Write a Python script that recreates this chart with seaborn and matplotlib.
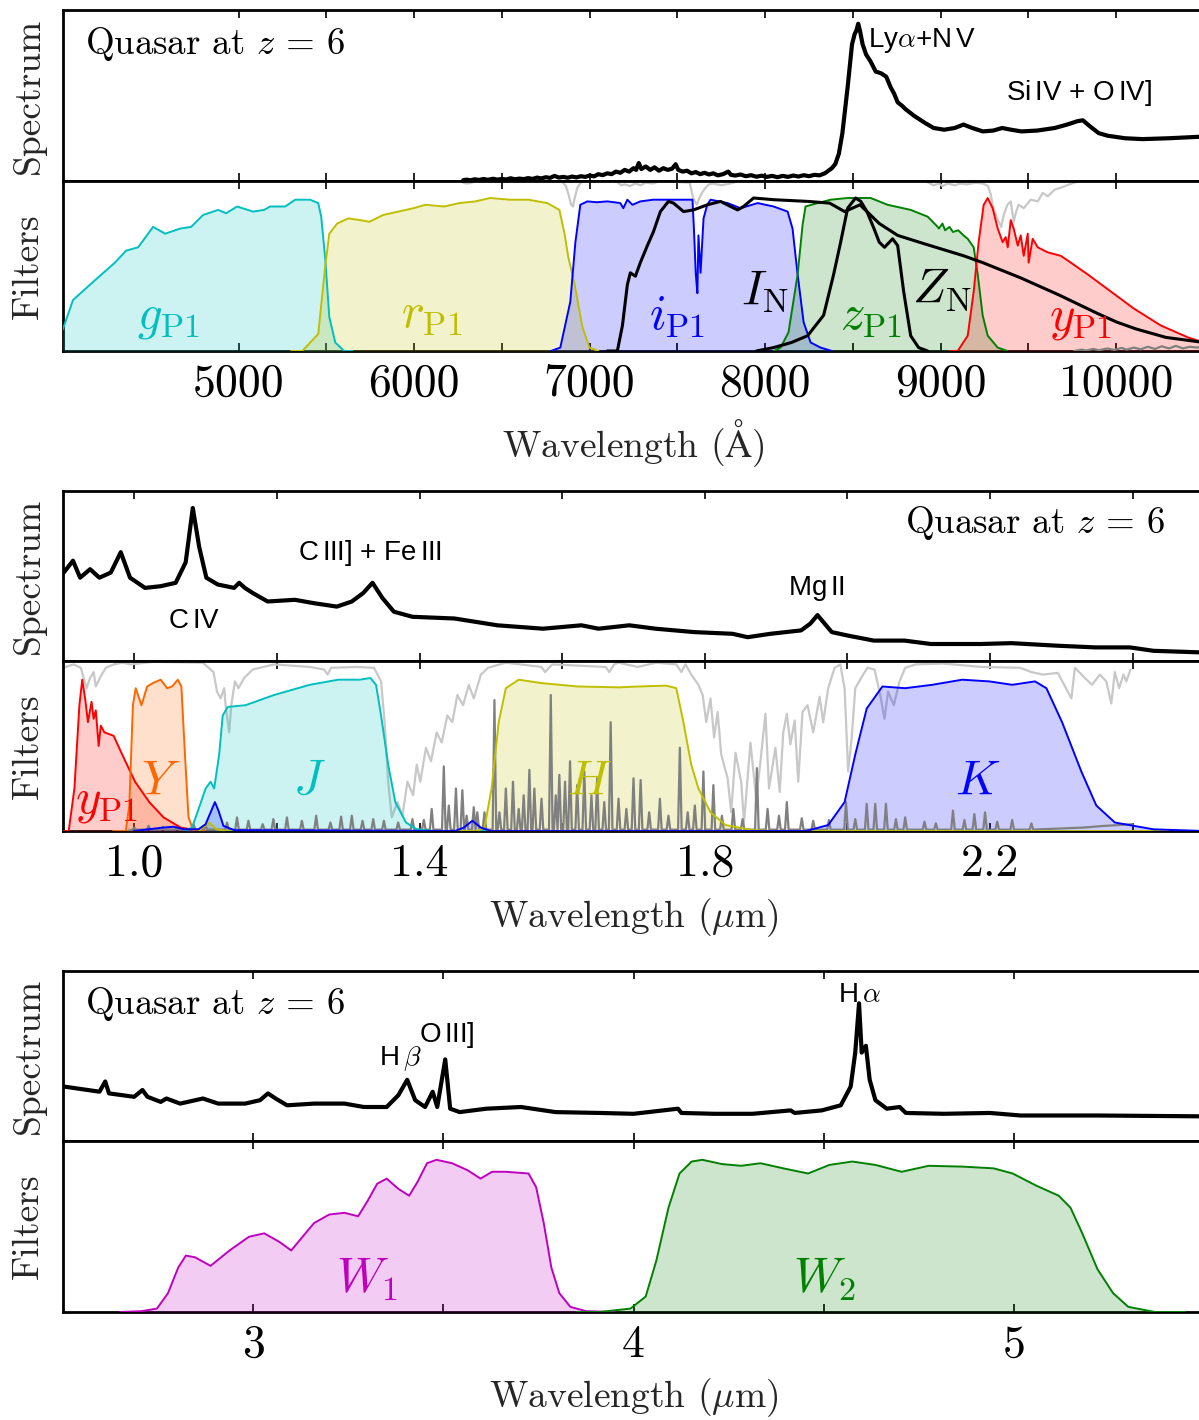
import matplotlib
matplotlib.use("Agg")
import matplotlib.pyplot as plt
import seaborn as sns

# ---------------------------------------------------------------- data
# Optical panel (wavelength in Angstrom)
spec1_wave = [6280, 6300, 6320, 6345, 6370, 6395, 6420, 6450, 6475, 6500, 6525, 6550,
              6575, 6600, 6625, 6650, 6675, 6700, 6725, 6750, 6775, 6800, 6825, 6850,
              6875, 6900, 6925, 6950, 6975, 7000, 7025, 7050, 7075, 7100, 7125, 7150,
              7175, 7200, 7225, 7250, 7265, 7280, 7295, 7320, 7345, 7370, 7395, 7420,
              7445, 7470, 7490, 7505, 7530, 7555, 7580, 7605, 7630, 7655, 7680, 7705,
              7730, 7760, 7790, 7805, 7830, 7860, 7890, 7920, 7950, 7980, 8010, 8040,
              8070, 8100, 8130, 8160, 8190, 8220, 8250, 8280, 8310, 8340, 8360, 8380,
              8400, 8420, 8440, 8470, 8495, 8510, 8520, 8530, 8540, 8555, 8575, 8600,
              8630, 8660, 8690, 8714, 8735, 8755, 8780, 8800, 8825, 8850, 8880, 8910,
              8960, 9020, 9080, 9130, 9180, 9240, 9300, 9350, 9400, 9460, 9550, 9650,
              9720, 9780, 9810, 9850, 9900, 9950, 10050, 10150, 10300, 10500]
spec1_flux = [0.005, 0.008, 0.004, 0.010, 0.006, 0.012, 0.007, 0.013, 0.008, 0.012, 0.009, 0.016,
              0.010, 0.014, 0.011, 0.017, 0.012, 0.020, 0.015, 0.022, 0.018, 0.030, 0.020, 0.024,
              0.019, 0.026, 0.021, 0.028, 0.024, 0.032, 0.027, 0.040, 0.034, 0.045, 0.040, 0.055,
              0.048, 0.065, 0.055, 0.075, 0.065, 0.105, 0.070, 0.085, 0.065, 0.080, 0.060, 0.075,
              0.065, 0.072, 0.098, 0.065, 0.055, 0.060, 0.045, 0.052, 0.040, 0.048, 0.038, 0.045,
              0.033, 0.040, 0.055, 0.036, 0.032, 0.038, 0.028, 0.034, 0.025, 0.031, 0.024, 0.030,
              0.022, 0.030, 0.024, 0.032, 0.026, 0.034, 0.028, 0.036, 0.033, 0.045, 0.060, 0.075,
              0.100, 0.160, 0.280, 0.550, 0.800, 0.860, 0.880, 0.920, 0.880, 0.800, 0.740, 0.700,
              0.640, 0.630, 0.610, 0.550, 0.510, 0.460, 0.440, 0.420, 0.400, 0.380, 0.360, 0.340,
              0.310, 0.300, 0.310, 0.330, 0.310, 0.290, 0.295, 0.310, 0.300, 0.290, 0.295, 0.310,
              0.330, 0.350, 0.355, 0.320, 0.280, 0.265, 0.250, 0.245, 0.250, 0.260]

g_wave = [3900, 4000, 4057, 4143, 4208, 4296, 4359, 4428, 4513, 4582, 4667, 4730, 4798,
          4884, 4929, 4992, 5083, 5146, 5180, 5266, 5323, 5408, 5454, 5471, 5494, 5517,
          5551, 5602, 5650]
g_tr = [0.0, 0.13, 0.30, 0.38, 0.44, 0.52, 0.59, 0.61, 0.73, 0.69, 0.72, 0.73, 0.80,
        0.83, 0.81, 0.85, 0.82, 0.83, 0.85, 0.85, 0.89, 0.89, 0.87, 0.79, 0.54, 0.20,
        0.05, 0.0, 0.0]

r_wave = [5300, 5363, 5454, 5494, 5517, 5562, 5625, 5693, 5745, 5824, 5910, 5996, 6064,
          6172, 6258, 6349, 6434, 6543, 6651, 6759, 6828, 6857, 6879, 6913, 6959, 6999,
          7050]
r_tr = [0.0, 0.0, 0.10, 0.50, 0.69, 0.75, 0.78, 0.77, 0.76, 0.80, 0.82, 0.84, 0.86,
        0.85, 0.87, 0.88, 0.90, 0.89, 0.89, 0.87, 0.83, 0.69, 0.55, 0.40, 0.14, 0.02,
        0.0]

i_wave = [6780, 6833, 6890, 6919, 6947, 6987, 7040, 7101, 7140, 7175, 7192, 7215, 7244,
          7289, 7363, 7478, 7586, 7595, 7605, 7614, 7620, 7632, 7649, 7670, 7689, 7786,
          7860, 7957, 8048, 8128, 8156, 8185, 8219, 8259, 8316, 8380]
i_tr = [0.0, 0.02, 0.29, 0.64, 0.86, 0.88, 0.875, 0.88, 0.875, 0.87, 0.84, 0.89, 0.86,
        0.88, 0.89, 0.89, 0.89, 0.70, 0.45, 0.34, 0.68, 0.46, 0.78, 0.86, 0.89, 0.87,
        0.84, 0.87, 0.85, 0.82, 0.72, 0.45, 0.17, 0.05, 0.02, 0.0]

z_wave = [8050, 8088, 8133, 8185, 8213, 8230, 8299, 8373, 8470, 8601, 8698, 8829, 8926,
          8983, 8990, 9010, 9025, 9050, 9070, 9100, 9130, 9154, 9188, 9211, 9239, 9268,
          9325, 9380]
z_tr = [0.0, 0.02, 0.11, 0.45, 0.74, 0.85, 0.87, 0.89, 0.90, 0.90, 0.86, 0.83, 0.79,
        0.73, 0.72, 0.75, 0.71, 0.73, 0.70, 0.71, 0.68, 0.66, 0.61, 0.45, 0.21, 0.09,
        0.02, 0.0]

yp1_wave = [9050, 9097, 9154, 9188, 9216, 9245, 9268, 9296, 9325, 9353, 9370, 9382, 9399,
            9416, 9439, 9456, 9473, 9496, 9501, 9524, 9553, 9610, 9684, 9741, 9838, 9969,
            10100, 10254, 10408, 10500, 10600]
yp1_tr = [0.0, 0.0, 0.09, 0.35, 0.64, 0.86, 0.90, 0.84, 0.72, 0.64, 0.67, 0.61, 0.77,
          0.72, 0.62, 0.68, 0.56, 0.69, 0.52, 0.66, 0.61, 0.58, 0.56, 0.52, 0.45, 0.35,
          0.25, 0.15, 0.08, 0.05, 0.03]

IN_wave = [7100, 7158, 7187, 7215, 7232, 7261, 7289, 7329, 7363, 7403, 7449, 7478, 7535,
           7592, 7671, 7746, 7803, 7843, 7877, 7934, 8048, 8242, 8367, 8453, 8540, 8600,
           8650, 8755, 8909, 9131, 9239, 9456, 9673, 9895, 10003, 10112, 10283, 10500]
IN_tr = [0.0, 0.0, 0.15, 0.39, 0.46, 0.44, 0.52, 0.62, 0.70, 0.82, 0.88, 0.87, 0.82,
         0.83, 0.86, 0.88, 0.85, 0.83, 0.85, 0.90, 0.89, 0.88, 0.87, 0.82, 0.86, 0.80,
         0.75, 0.68, 0.63, 0.56, 0.52, 0.43, 0.33, 0.22, 0.17, 0.13, 0.08, 0.05]

ZN_wave = [7950, 8048, 8150, 8242, 8333, 8390, 8430, 8470, 8515, 8545, 8580, 8620, 8650,
           8680, 8726, 8755, 8789, 8829, 8874, 8926]
ZN_tr = [0.0, 0.02, 0.05, 0.09, 0.21, 0.45, 0.64, 0.84, 0.90, 0.88, 0.82, 0.72, 0.64,
         0.61, 0.66, 0.62, 0.35, 0.09, 0.02, 0.0]

atm1_wave = [6250, 6280, 6300, 6330, 6360, 6840, 6865, 6880, 6895, 6905, 6915, 6930,
             6950, 6980, 7150, 7180, 7200, 7230, 7260, 7290, 7320, 7360, 7400, 7570,
             7590, 7600, 7610, 7625, 7640, 7660, 7680, 7700, 7750, 7800, 7850, 7900,
             8900, 8930, 8960, 8990, 9010, 9040, 9080, 9110, 9150, 9200, 9240, 9270,
             9285, 9300, 9330, 9345, 9359, 9380, 9399, 9416, 9430, 9444, 9473, 9513,
             9553, 9581, 9610, 9650, 9684, 9720, 9758, 9800, 9840]
atm1_tr = [1.01, 0.99, 0.985, 0.99, 1.01, 1.0, 0.97, 0.92, 0.86, 0.85, 0.90, 0.96,
           0.99, 1.01, 1.0, 0.975, 0.98, 0.97, 0.985, 0.975, 0.99, 0.985, 1.0, 0.99,
           0.90, 0.88, 0.86, 0.90, 0.93, 0.96, 0.98, 0.985, 0.975, 0.985, 1.0, 1.01,
           1.01, 0.99, 0.975, 0.985, 0.97, 0.985, 0.975, 0.985, 0.98, 0.99, 0.985, 0.97,
           0.92, 0.84, 0.76, 0.73, 0.80, 0.86, 0.88, 0.76, 0.82, 0.86, 0.84, 0.89,
           0.88, 0.93, 0.91, 0.95, 0.96, 0.975, 0.99, 1.0, 1.01]

sky1_wave = [9760, 9800, 9830, 9870, 9900, 9950, 9990, 10030, 10060, 10100, 10140, 10180,
             10220, 10260, 10300, 10340, 10380, 10420, 10460, 10500]
sky1_flux = [0.0, 0.008, 0.003, 0.012, 0.004, 0.015, 0.006, 0.018, 0.008, 0.02, 0.01,
             0.025, 0.012, 0.028, 0.015, 0.03, 0.015, 0.025, 0.02, 0.03]

# Near-infrared panel (wavelength in micron)
spec2_wave = [0.901, 0.914, 0.924, 0.938, 0.951, 0.967, 0.981, 0.994, 1.015, 1.037,
              1.058, 1.072, 1.082, 1.091, 1.101, 1.117, 1.140, 1.147, 1.155, 1.166,
              1.187, 1.225, 1.252, 1.284, 1.305, 1.321, 1.334, 1.348, 1.364, 1.390,
              1.449, 1.509, 1.573, 1.627, 1.651, 1.694, 1.731, 1.785, 1.839, 1.860,
              1.892, 1.935, 1.948, 1.958, 1.968, 1.978, 2.000, 2.037, 2.080, 2.117,
              2.187, 2.230, 2.294, 2.348, 2.396, 2.429, 2.50]
spec2_flux = [0.52, 0.59, 0.49, 0.54, 0.49, 0.52, 0.64, 0.49, 0.43, 0.44,
              0.46, 0.58, 0.90, 0.67, 0.49, 0.45, 0.43, 0.46, 0.43, 0.40,
              0.35, 0.36, 0.34, 0.32, 0.35, 0.40, 0.46, 0.37, 0.29, 0.26,
              0.25, 0.21, 0.19, 0.21, 0.19, 0.21, 0.19, 0.17, 0.16, 0.14,
              0.16, 0.18, 0.22, 0.27, 0.22, 0.17, 0.15, 0.12, 0.12, 0.10,
              0.10, 0.105, 0.09, 0.08, 0.08, 0.06, 0.05]

y2_wave = [0.90, 0.908, 0.916, 0.923, 0.927, 0.931, 0.935, 0.940, 0.943, 0.946, 0.950,
           0.953, 0.958, 0.971, 0.983, 1.001, 1.021, 1.041, 1.065, 1.096]
y2_tr = [0.0, 0.0, 0.25, 0.74, 0.89, 0.78, 0.64, 0.76, 0.66, 0.71, 0.50,
         0.62, 0.58, 0.56, 0.45, 0.29, 0.17, 0.08, 0.02, 0.0]

Y_wave = [0.97, 0.988, 0.993, 0.998, 1.002, 1.010, 1.018, 1.026, 1.037, 1.046, 1.053,
          1.061, 1.066, 1.071, 1.076, 1.083, 1.10]
Y_tr = [0.0, 0.0, 0.15, 0.74, 0.84, 0.74, 0.85, 0.87, 0.89, 0.84, 0.85,
        0.89, 0.85, 0.45, 0.08, 0.0, 0.0]

J_wave = [1.07, 1.081, 1.091, 1.100, 1.107, 1.112, 1.119, 1.124, 1.131, 1.156, 1.196,
          1.246, 1.286, 1.316, 1.331, 1.339, 1.346, 1.356, 1.366, 1.381, 1.396, 1.42, 2.45]
J_tr = [0.0, 0.02, 0.14, 0.25, 0.29, 0.25, 0.45, 0.68, 0.73, 0.74, 0.80,
        0.86, 0.89, 0.89, 0.90, 0.86, 0.68, 0.39, 0.17, 0.05, 0.01, 0.0, 0.0]

H_wave = [1.09, 1.105, 1.115, 1.13, 1.48, 1.491, 1.501, 1.511, 1.521, 1.539, 1.571,
          1.622, 1.680, 1.706, 1.746, 1.760, 1.770, 1.781, 1.791, 1.808, 1.829, 1.867,
          1.90, 2.45]
H_tr = [0.0, 0.05, 0.01, 0.0, 0.0, 0.02, 0.25, 0.64, 0.84, 0.89, 0.87,
        0.85, 0.845, 0.85, 0.855, 0.84, 0.64, 0.39, 0.25, 0.11, 0.035, 0.005,
        0.0, 0.0]

K_wave = [1.00, 1.04, 1.055, 1.07, 1.09, 1.10, 1.108, 1.113, 1.118, 1.125, 1.14, 1.45,
          1.462, 1.474, 1.486, 1.50, 1.90, 1.942, 1.973, 1.996, 2.011, 2.027, 2.049,
          2.081, 2.119, 2.161, 2.199, 2.231, 2.263, 2.279, 2.301, 2.328, 2.349, 2.375,
          2.429, 2.50]
K_tr = [0.0, 0.02, 0.025, 0.01, 0.01, 0.04, 0.12, 0.17, 0.12, 0.03, 0.005, 0.0,
        0.02, 0.06, 0.02, 0.0, 0.0, 0.0, 0.035, 0.17, 0.45, 0.72, 0.85,
        0.84, 0.86, 0.89, 0.88, 0.86, 0.88, 0.84, 0.64, 0.35, 0.15, 0.05,
        0.01, 0.0]

atm2_wave = [0.900, 0.915, 0.925, 0.933, 0.938, 0.943, 0.946, 0.953, 0.960, 0.971, 0.983,
             0.995, 1.026, 1.096, 1.111, 1.116, 1.121, 1.126, 1.128, 1.133, 1.136, 1.141,
             1.146, 1.154, 1.166, 1.196, 1.246, 1.266, 1.271, 1.276, 1.311, 1.336, 1.346,
             1.351, 1.356, 1.361, 1.369, 1.376, 1.383, 1.391, 1.396, 1.401, 1.409, 1.416,
             1.424, 1.431, 1.439, 1.446, 1.453, 1.461, 1.469, 1.476, 1.486, 1.496, 1.521,
             1.571, 1.576, 1.586, 1.661, 1.666, 1.673, 1.679, 1.706, 1.732, 1.760, 1.767,
             1.773, 1.781, 1.791, 1.797, 1.802, 1.808, 1.813, 1.818, 1.823, 1.832, 1.837,
             1.843, 1.851, 1.855, 1.864, 1.872, 1.877, 1.885, 1.890, 1.899, 1.905, 1.910,
             1.915, 1.920, 1.926, 1.931, 1.937, 1.944, 1.952, 1.961, 1.966, 1.973, 1.982,
             1.990, 1.996, 2.001, 2.006, 2.011, 2.022, 2.028, 2.038, 2.046, 2.052, 2.057,
             2.065, 2.073, 2.081, 2.096, 2.134, 2.188, 2.242, 2.258, 2.274, 2.295, 2.314,
             2.319, 2.333, 2.343, 2.354, 2.363, 2.370, 2.375, 2.381, 2.387, 2.391, 2.397]
atm2_tr = [0.96, 0.98, 0.96, 0.84, 0.90, 0.935, 0.85, 0.91, 0.96, 0.98, 0.99,
           0.98, 0.995, 0.99, 0.935, 0.82, 0.78, 0.84, 0.74, 0.58, 0.74, 0.88,
           0.84, 0.90, 0.95, 0.98, 0.965, 0.95, 0.92, 0.96, 0.965, 0.96, 0.88,
           0.64, 0.29, 0.08, 0.17, 0.09, 0.29, 0.21, 0.39, 0.29, 0.49, 0.41,
           0.58, 0.52, 0.68, 0.64, 0.80, 0.74, 0.86, 0.78, 0.92, 0.96, 0.99,
           0.965, 0.935, 0.98, 0.965, 0.935, 0.98, 0.99, 0.965, 0.99, 0.98, 0.935,
           0.98, 0.92, 0.86, 0.80, 0.64, 0.78, 0.55, 0.70, 0.45, 0.31, 0.11,
           0.46, 0.29, 0.05, 0.52, 0.19, 0.37, 0.69, 0.25, 0.49, 0.23, 0.58,
           0.69, 0.51, 0.65, 0.29, 0.70, 0.74, 0.58, 0.79, 0.64, 0.84, 0.96,
           0.98, 0.84, 0.35, 0.55, 0.84, 0.92, 0.96, 0.95, 0.80, 0.66, 0.82,
           0.74, 0.88, 0.96, 0.98, 0.985, 0.965, 0.96, 0.935, 0.92, 0.93, 0.78,
           0.96, 0.90, 0.86, 0.92, 0.88, 0.75, 0.935, 0.84, 0.92, 0.88, 0.95]

sky2_lines = [1.000, 1.020, 1.040, 1.060, 1.083, 1.100, 1.130, 1.144, 1.160, 1.180,
              1.195, 1.214, 1.235, 1.255, 1.275, 1.290, 1.305, 1.320, 1.335, 1.350,
              1.370, 1.390, 1.406, 1.417, 1.434, 1.441, 1.451, 1.460, 1.466, 1.476,
              1.481, 1.491, 1.505, 1.512, 1.521, 1.531, 1.539, 1.546, 1.554, 1.561,
              1.571, 1.584, 1.591, 1.596, 1.604, 1.611, 1.621, 1.631, 1.641, 1.649,
              1.659, 1.668, 1.679, 1.690, 1.700, 1.710, 1.722, 1.737, 1.749, 1.765,
              1.776, 1.786, 1.798, 1.812, 1.824, 1.840, 1.853, 1.873, 1.888, 1.904,
              1.915, 1.936, 1.952, 1.974, 1.998, 2.011, 2.027, 2.039, 2.054, 2.068,
              2.081, 2.108, 2.124, 2.148, 2.164, 2.178, 2.193, 2.210, 2.231, 2.258]
sky2_peaks = [0.02, 0.03, 0.025, 0.03, 0.04, 0.03, 0.05, 0.08, 0.06, 0.04,
              0.07, 0.08, 0.06, 0.09, 0.05, 0.085, 0.09, 0.06, 0.07, 0.06,
              0.05, 0.07, 0.065, 0.13, 0.38, 0.15, 0.25, 0.24, 0.09, 0.14,
              0.11, 0.11, 0.77, 0.11, 0.25, 0.29, 0.13, 0.21, 0.36, 0.25,
              0.19, 0.80, 0.21, 0.33, 0.29, 0.41, 0.27, 0.35, 0.21, 0.31,
              0.17, 0.64, 0.19, 0.13, 0.31, 0.30, 0.11, 0.19, 0.09, 0.49,
              0.11, 0.15, 0.35, 0.27, 0.09, 0.13, 0.07, 0.37, 0.13, 0.09,
              0.17, 0.075, 0.06, 0.065, 0.17, 0.07, 0.16, 0.16, 0.16, 0.07,
              0.08, 0.055, 0.045, 0.12, 0.065, 0.10, 0.11, 0.055, 0.065, 0.045]
sky2_floor = 0.008
sky2_cont_wave = [0.990, 2.27, 2.30, 2.33, 2.36, 2.38, 2.40]
sky2_cont_flux = [0.0, 0.01, 0.015, 0.02, 0.03, 0.035, 0.04]

# Mid-infrared panel (wavelength in micron)
spec3_wave = [2.503, 2.596, 2.611, 2.621, 2.687, 2.709, 2.722, 2.757, 2.772, 2.808,
              2.868, 2.908, 2.979, 3.018, 3.039, 3.059, 3.089, 3.160, 3.240, 3.291,
              3.351, 3.382, 3.405, 3.426, 3.452, 3.472, 3.484, 3.505, 3.518, 3.543,
              3.613, 3.704, 3.795, 3.911, 4.000, 4.117, 4.126, 4.213, 4.313, 4.413,
              4.424, 4.495, 4.545, 4.571, 4.583, 4.593, 4.600, 4.611, 4.621, 4.636,
              4.666, 4.700, 4.716, 4.816, 4.937, 5.018, 5.220, 5.50]
spec3_flux = [0.32, 0.29, 0.35, 0.28, 0.26, 0.30, 0.26, 0.23, 0.25, 0.22,
              0.25, 0.22, 0.22, 0.24, 0.28, 0.25, 0.21, 0.22, 0.22, 0.20,
              0.20, 0.27, 0.36, 0.24, 0.20, 0.29, 0.20, 0.48, 0.19, 0.17,
              0.19, 0.20, 0.17, 0.165, 0.16, 0.19, 0.165, 0.16, 0.16, 0.18,
              0.165, 0.18, 0.21, 0.32, 0.52, 0.81, 0.52, 0.56, 0.36, 0.24,
              0.19, 0.20, 0.165, 0.16, 0.165, 0.15, 0.15, 0.145]

W1_wave = [2.65, 2.707, 2.747, 2.776, 2.803, 2.823, 2.847, 2.888, 2.938, 2.989, 3.029,
           3.069, 3.100, 3.130, 3.160, 3.200, 3.240, 3.276, 3.301, 3.326, 3.351, 3.382,
           3.410, 3.432, 3.457, 3.482, 3.523, 3.563, 3.598, 3.628, 3.664, 3.724, 3.744,
           3.764, 3.784, 3.805, 3.834, 3.875, 3.95]
W1_tr = [0.0, 0.005, 0.02, 0.11, 0.26, 0.33, 0.32, 0.27, 0.36, 0.44, 0.46,
         0.41, 0.36, 0.44, 0.52, 0.57, 0.58, 0.56, 0.65, 0.75, 0.78, 0.72,
         0.68, 0.76, 0.87, 0.89, 0.87, 0.83, 0.78, 0.82, 0.82, 0.81, 0.73,
         0.52, 0.26, 0.11, 0.03, 0.005, 0.0]

W2_wave = [3.85, 3.911, 3.992, 4.032, 4.060, 4.092, 4.121, 4.153, 4.181, 4.233, 4.283,
           4.334, 4.394, 4.459, 4.515, 4.575, 4.636, 4.705, 4.776, 4.867, 4.947, 4.997,
           5.058, 5.118, 5.149, 5.180, 5.220, 5.261, 5.301, 5.371, 5.45]
W2_tr = [0.0, 0.0, 0.02, 0.09, 0.30, 0.61, 0.81, 0.88, 0.89, 0.865, 0.855,
         0.87, 0.84, 0.81, 0.86, 0.88, 0.86, 0.82, 0.855, 0.85, 0.84, 0.81,
         0.74, 0.68, 0.61, 0.46, 0.25, 0.11, 0.03, 0.0, 0.0]

# Axis ticks
ticks1 = [5000, 5500, 6000, 6500, 7000, 7500, 8000, 8500, 9000, 9500, 10000]
labels1 = ["5000", "", "6000", "", "7000", "", "8000", "", "9000", "", "10000"]
ticks2 = [1.0, 1.2, 1.4, 1.6, 1.8, 2.0, 2.2, 2.4]
labels2 = ["1.0", "", "1.4", "", "1.8", "", "2.2", ""]
ticks3 = [3.0, 3.5, 4.0, 4.5, 5.0]
labels3 = ["3", "", "4", "", "5"]

# ---------------------------------------------------------------- style
sns.set_theme(style="white")
plt.rcParams.update({
    "font.family": ["cmr10", "DejaVu Serif"],
    "mathtext.fontset": "cm",
    "axes.formatter.use_mathtext": True,
    "axes.unicode_minus": False,
    "axes.edgecolor": "black",
    "axes.linewidth": 2.0,
    "text.color": "black",
    "xtick.color": "black",
})

SANS = ["Liberation Sans", "DejaVu Sans"]
LIGHT = "#c8c8c8"
DARK = "#808080"
C_CYAN, C_YEL, C_BLUE = "#00bfbf", "#bfbf00", "#0000ff"
C_GREEN, C_RED, C_ORANGE, C_MAG = "#008000", "#ff0000", "#ff6600", "#bf00bf"

FIG_W, FIG_H = 1199, 1420
fig = plt.figure(figsize=(FIG_W / 100, FIG_H / 100), dpi=100)


def rect(top_px, bot_px):
    return [63 / FIG_W, 1 - bot_px / FIG_H, 1141 / FIG_W, (bot_px - top_px) / FIG_H]


def line(ax, x, y, color, lw, z):
    sns.lineplot(x=x, y=y, ax=ax, color=color, linewidth=lw, sort=False,
                 estimator=None, errorbar=None, zorder=z)


def band(ax, x, y, color):
    ax.fill_between(x, 0, y, color=color, alpha=0.2, linewidth=0, zorder=3)
    line(ax, x, y, color, 1.4, 4)


def spikes(centers, peaks, floor, half=0.0025):
    xs, ys = [], []
    for c, p in zip(centers, peaks):
        xs += [c - half, c, c + half]
        ys += [floor, p, floor]
    return xs, ys


def finish(ax, xlim, ticks, labels, show_labels):
    ax.set_xlim(*xlim)
    ax.set_ylim(0, 1)
    ax.set_yticks([])
    ax.set_xticks(ticks)
    ax.set_xticklabels(labels)
    ax.tick_params(axis="x", which="major", direction="in", top=True, bottom=True,
                   length=6, width=1.2, labelsize=33, pad=9,
                   labelbottom=show_labels, labeltop=False)
    for s in ax.spines.values():
        s.set_visible(True)
        s.set_linewidth(2.0)
        s.set_color("black")
    ax.set_xlabel("")
    ax.set_ylabel("")


def ylab(ax, text):
    ax.set_ylabel(text, fontsize=27, va="center")
    ax.yaxis.set_label_coords(-0.0302, 0.5)


groups = [(10, 181, 351), (491, 661, 831), (971, 1141, 1312)]
axes = []
for top, mid, bot in groups:
    a_s = fig.add_axes(rect(top, mid))
    a_f = fig.add_axes(rect(mid, bot))
    axes.append((a_s, a_f))

QUASAR = r"Quasar at $z\,=\,6$"
QSIZE = 26.5

# ---------------------------------------------------------------- optical
s1, f1 = axes[0]
line(s1, spec1_wave, spec1_flux, "black", 3.0, 5)
line(f1, atm1_wave, atm1_tr, LIGHT, 1.6, 1)
line(f1, sky1_wave, sky1_flux, DARK, 1.6, 3.5)
band(f1, g_wave, g_tr, C_CYAN)
band(f1, r_wave, r_tr, C_YEL)
band(f1, i_wave, i_tr, C_BLUE)
band(f1, z_wave, z_tr, C_GREEN)
band(f1, yp1_wave, yp1_tr, C_RED)
line(f1, IN_wave, IN_tr, "black", 2.2, 6)
line(f1, ZN_wave, ZN_tr, "black", 2.2, 6)
finish(s1, (4000, 10500), ticks1, labels1, False)
finish(f1, (4000, 10500), ticks1, labels1, True)
ylab(s1, "Spectrum")
ylab(f1, "Filters")
f1.set_xlabel(r"Wavelength ($\mathrm{\AA}$)", fontsize=27, va="center")
f1.xaxis.set_label_coords(0.5, -0.541)

s1.text(0.0195, 0.743, QUASAR, transform=s1.transAxes, fontsize=QSIZE,
        ha="left", va="baseline")
s1.text(8584, 0.785, r"Ly$\alpha$+N$\,$V", family=SANS, fontsize=20, ha="left", va="baseline")
s1.text(9370, 0.474, r"Si$\,$IV + O$\,$IV]", family=SANS, fontsize=20, ha="left", va="baseline")

lab1 = [(4599, 0.135, r"$g_{\mathrm{P1}}$", C_CYAN), (6098, 0.135, r"$r_{\mathrm{P1}}$", C_YEL),
        (7500, 0.125, r"$i_{\mathrm{P1}}$", C_BLUE), (7998, 0.27, r"$I_{\mathrm{N}}$", "black"),
        (8601, 0.125, r"$z_{\mathrm{P1}}$", C_GREEN), (9006, 0.28, r"$Z_{\mathrm{N}}$", "black"),
        (9798, 0.125, r"$y_{\mathrm{P1}}$", C_RED)]
for x, y, t, c in lab1:
    f1.text(x, y, t, color=c, fontsize=35, ha="center", va="baseline", zorder=7)

# ---------------------------------------------------------------- near-infrared
s2, f2 = axes[1]
line(s2, spec2_wave, spec2_flux, "black", 3.0, 5)
line(f2, atm2_wave, atm2_tr, LIGHT, 1.6, 1)
sx, sy = spikes(sky2_lines, sky2_peaks, sky2_floor)
sky_pts = sorted(zip(sx + sky2_cont_wave, sy + sky2_cont_flux))
line(f2, [p[0] for p in sky_pts], [p[1] for p in sky_pts], DARK, 1.6, 3.5)
band(f2, y2_wave, y2_tr, C_RED)
band(f2, Y_wave, Y_tr, C_ORANGE)
band(f2, J_wave, J_tr, C_CYAN)
band(f2, H_wave, H_tr, C_YEL)
band(f2, K_wave, K_tr, C_BLUE)
finish(s2, (0.9, 2.5), ticks2, labels2, False)
finish(f2, (0.9, 2.5), ticks2, labels2, True)
ylab(s2, "Spectrum")
ylab(f2, "Filters")
f2.set_xlabel(r"Wavelength ($\mu$m)", fontsize=27, va="center")
f2.xaxis.set_label_coords(0.5, -0.512)

s2.text(0.9655, 0.751, QUASAR, transform=s2.transAxes, fontsize=QSIZE,
        ha="right", va="baseline")
s2.text(1.047, 0.194, r"C$\,$IV", family=SANS, fontsize=20, ha="left", va="baseline")
s2.text(1.230, 0.594, r"C$\,$III] + Fe$\,$III", family=SANS, fontsize=20, ha="left", va="baseline")
s2.text(1.917, 0.388, r"Mg$\,$II", family=SANS, fontsize=20, ha="left", va="baseline")

lab2 = [(0.961, 0.11, r"$y_{\mathrm{P1}}$", C_RED), (1.037, 0.22, r"$Y$", C_ORANGE),
        (1.246, 0.22, r"$J$", C_CYAN), (1.638, 0.22, r"$H$", C_YEL),
        (2.182, 0.22, r"$K$", C_BLUE)]
for x, y, t, c in lab2:
    f2.text(x, y, t, color=c, fontsize=35, ha="center", va="baseline", zorder=7)

# ---------------------------------------------------------------- mid-infrared
s3, f3 = axes[2]
line(s3, spec3_wave, spec3_flux, "black", 3.0, 5)
band(f3, W1_wave, W1_tr, C_MAG)
band(f3, W2_wave, W2_tr, C_GREEN)
finish(s3, (2.5, 5.5), ticks3, labels3, False)
finish(f3, (2.5, 5.5), ticks3, labels3, True)
ylab(s3, "Spectrum")
ylab(f3, "Filters")
f3.set_xlabel(r"Wavelength ($\mu$m)", fontsize=27, va="center")
f3.xaxis.set_label_coords(0.5, -0.503)

s3.text(0.0195, 0.747, QUASAR, transform=s3.transAxes, fontsize=QSIZE,
        ha="left", va="baseline")
s3.text(3.332, 0.447, r"H$\,\beta$", family=SANS, fontsize=20, ha="left", va="baseline")
s3.text(3.437, 0.582, r"O$\,$III]", family=SANS, fontsize=20, ha="left", va="baseline")
s3.text(4.539, 0.818, r"H$\,\alpha$", family=SANS, fontsize=20, ha="left", va="baseline")

lab3 = [(3.30, 0.11, r"$W_1$", C_MAG), (4.503, 0.11, r"$W_2$", C_GREEN)]
for x, y, t, c in lab3:
    f3.text(x, y, t, color=c, fontsize=35, ha="center", va="baseline", zorder=7)

fig.savefig("out.png", dpi=100)
